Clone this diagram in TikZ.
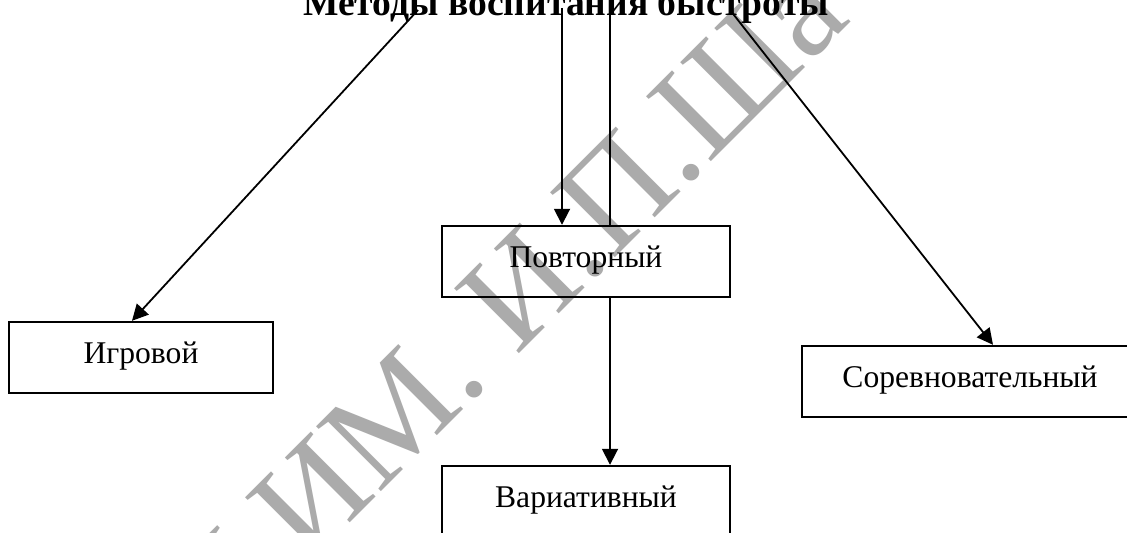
\documentclass[tikz,border=0pt]{standalone}
\usepackage{fontspec}
\setmainfont{Liberation Serif}
\usetikzlibrary{arrows.meta}
\begin{document}
\begin{tikzpicture}[x=0.5pt,y=-0.5pt,
  box/.style={draw, line width=1.2pt, inner sep=0pt, minimum height=35.5pt,
    font=\fontsize{15.8}{19}\selectfont, text height=11pt, text depth=4.8pt},
  link/.style={line width=0.9pt},
  arr/.style={link, -{Triangle[length=8pt,width=8pt]}},
  stamp/.style={rotate=45, anchor=base west, inner sep=0pt, text=black!33,
    font=\fontsize{70}{70}\selectfont}]
\useasboundingbox (0,0) rectangle (1127,533);
\fill[white] (0,0) rectangle (1127,533);
\clip (0,0) rectangle (1127,533);

% grey stamp lying behind the scheme
\node[stamp] (wm) at (212,661) {У ИМ. И.П.Ша};

% heading
\node[font=\bfseries\fontsize{18.8}{22}\selectfont, anchor=base, inner sep=0pt]
  (title) at (566,15.5) {Методы воспитания быстроты};
\coordinate (t1) at (418,10);
\coordinate (t2) at (562,8);
\coordinate (t3) at (610,7);
\coordinate (t4) at (730,10);

% methods
\node[box, minimum width=144pt] (rep) at (586,261.5) {Повторный};
\node[box, minimum width=132pt] (game) at (141,357.5) {Игровой};
\node[box, minimum width=168pt] (comp) at (970,381.5) {Соревновательный};
\node[box, minimum width=144pt] (var) at (586,501.5) {Вариативный};

% connectors
\draw[arr] (t1) -- ([xshift=-4.5pt]game.north);
\draw[arr] (t2) -- ([xshift=-12pt]rep.north);
\draw[link] ([xshift=12pt]rep.north) -- (t3);
\draw[arr] (t4) -- ([xshift=11.5pt]comp.north);
\draw[arr] ([xshift=12pt]rep.south) -- ([xshift=12pt]var.north);
\end{tikzpicture}
\end{document}
